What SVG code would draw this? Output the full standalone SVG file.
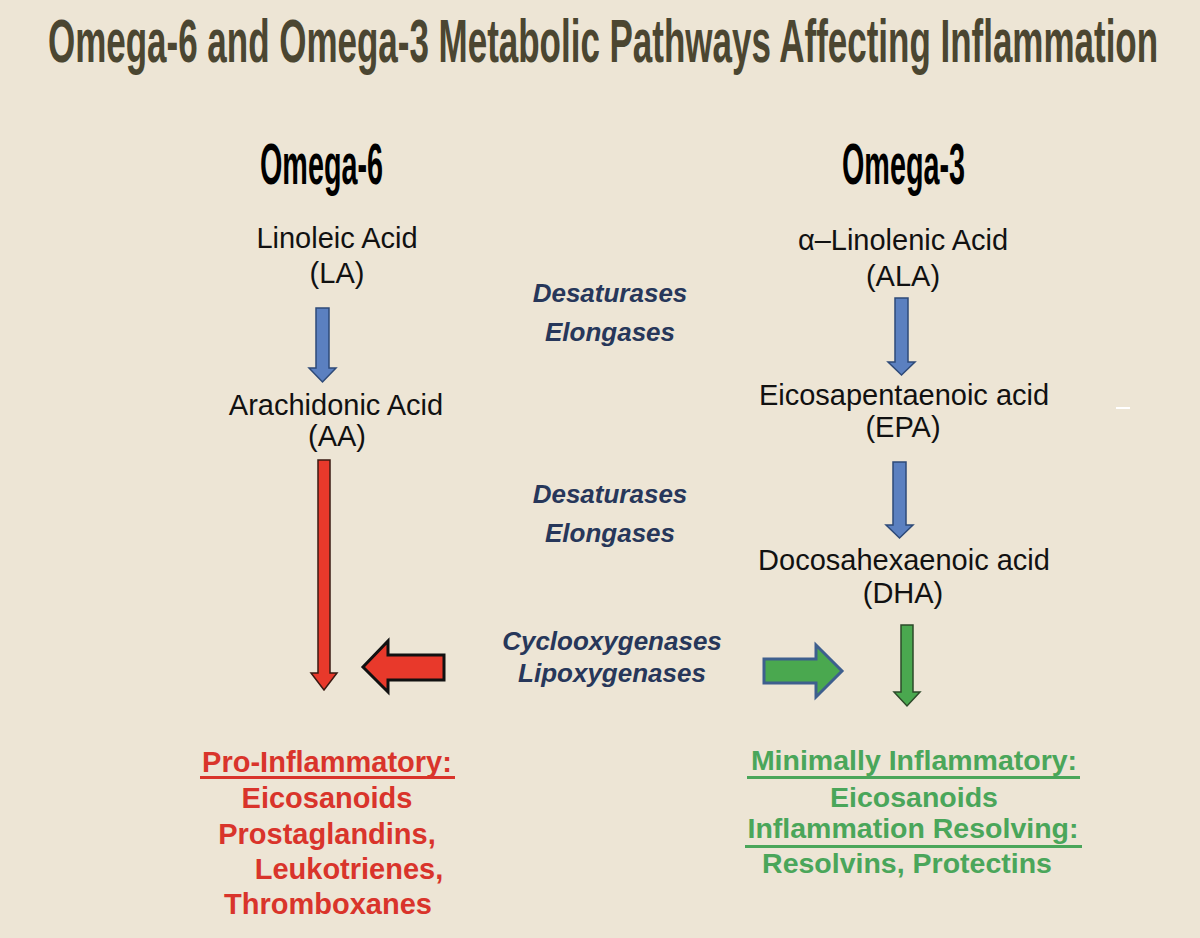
<svg xmlns="http://www.w3.org/2000/svg" width="1200" height="938" viewBox="0 0 1200 938">
<style>
.title{font-family:"Liberation Sans",Arial,sans-serif;font-weight:bold;fill:#4b4631}
.head{font-family:"Liberation Sans",Arial,sans-serif;font-weight:bold;fill:#000}
.acid{font-family:"Liberation Sans",Arial,sans-serif;font-size:29px;fill:#111;text-anchor:middle}
.enz{font-family:"Liberation Sans",Arial,sans-serif;font-size:26px;font-weight:bold;font-style:italic;fill:#27375a;text-anchor:middle}
.red{font-family:"Liberation Sans",Arial,sans-serif;font-size:29px;font-weight:bold;fill:#d9342b;text-anchor:middle}
.grn{font-family:"Liberation Sans",Arial,sans-serif;font-size:28.5px;font-weight:bold;fill:#4aa65a;text-anchor:middle}
.blue{fill:#5b80c0;stroke:#2e4a78;stroke-width:1.5}
</style>
<rect width="1200" height="938" fill="#ede5d5"/>
<rect x="1116" y="407" width="14" height="2" fill="#ffffff"/>
<text class="title" transform="translate(48,62) scale(0.5725,1)" x="0" y="0" font-size="61" textLength="1939" lengthAdjust="spacingAndGlyphs">Omega-6 and Omega-3 Metabolic Pathways Affecting Inflammation</text>
<g id="omega6">
<text class="head" transform="translate(260,184) scale(0.504,1)" x="0" y="0" font-size="57" textLength="244" lengthAdjust="spacingAndGlyphs">Omega-6</text>
</g>
<g id="omega3">
<text class="head" transform="translate(842,184) scale(0.504,1)" x="0" y="0" font-size="57" textLength="244" lengthAdjust="spacingAndGlyphs">Omega-3</text>
</g>
<g id="la">
<text class="acid" x="337" y="248">Linoleic Acid</text>
<text class="acid" x="337" y="283">(LA)</text>
</g>
<g id="aa">
<text class="acid" x="336" y="415">Arachidonic Acid</text>
<text class="acid" x="337" y="446">(AA)</text>
</g>
<g id="ala">
<text class="acid" x="903" y="250">α–Linolenic Acid</text>
<text class="acid" x="903" y="286">(ALA)</text>
</g>
<g id="epa">
<text class="acid" x="904" y="405">Eicosapentaenoic acid</text>
<text class="acid" x="903" y="437">(EPA)</text>
</g>
<g id="dha">
<text class="acid" x="904" y="570">Docosahexaenoic acid</text>
<text class="acid" x="903" y="603">(DHA)</text>
</g>
<g id="enzymes1">
<text class="enz" x="610" y="302">Desaturases</text>
<text class="enz" x="610" y="341">Elongases</text>
</g>
<g id="enzymes2">
<text class="enz" x="610" y="503">Desaturases</text>
<text class="enz" x="610" y="542">Elongases</text>
</g>
<g id="enzymes3">
<text class="enz" x="612" y="650">Cyclooxygenases</text>
<text class="enz" x="612" y="682">Lipoxygenases</text>
</g>
<g id="pro">
<text class="red" x="327" y="772">Pro-Inflammatory:</text>
<rect x="200" y="776" width="255" height="3" fill="#d9342b"/>
<text class="red" x="327" y="808">Eicosanoids</text>
<text class="red" x="327" y="844">Prostaglandins,</text>
<text class="red" x="349" y="879">Leukotrienes,</text>
<text class="red" x="328" y="914">Thromboxanes</text>
</g>
<g id="minimal">
<text class="grn" x="914" y="770">Minimally Inflammatory:</text>
<rect x="747" y="776" width="333" height="3" fill="#4aa65a"/>
<text class="grn" x="914" y="807">Eicosanoids</text>
<text class="grn" x="913" y="838">Inflammation Resolving:</text>
<rect x="745" y="845" width="337" height="3" fill="#4aa65a"/>
<text class="grn" x="907" y="873">Resolvins, Protectins</text>
</g>
<g id="connectors">
<path class="blue" d="M316,308 H329 V368 H336 L322.5,382 L309,368 H316 Z"/>
<path class="blue" d="M895,298 H908 V362 H915 L901.5,375 L888,362 H895 Z"/>
<path class="blue" d="M893,462 H906 V525 H913 L899.5,538 L886,525 H893 Z"/>
<path d="M318,460 H330 V673 H337 L324,690 L311,673 H318 Z" fill="#e8392b" stroke="#3a1a12" stroke-width="1.5"/>
<path d="M901,625 H913 V692 H920 L907,706 L894,692 H901 Z" fill="#4aa84f" stroke="#2d4a2a" stroke-width="1.5"/>
<path d="M444,655 V680 H388 V692 L363,667 L388,641 V655 Z" fill="#e8392b" stroke="#111" stroke-width="3"/>
<path d="M764,659 H816 V645 L842,671 L816,697 V683 H764 Z" fill="#4aa84f" stroke="#3e5f8e" stroke-width="3"/>
</g>
</svg>
